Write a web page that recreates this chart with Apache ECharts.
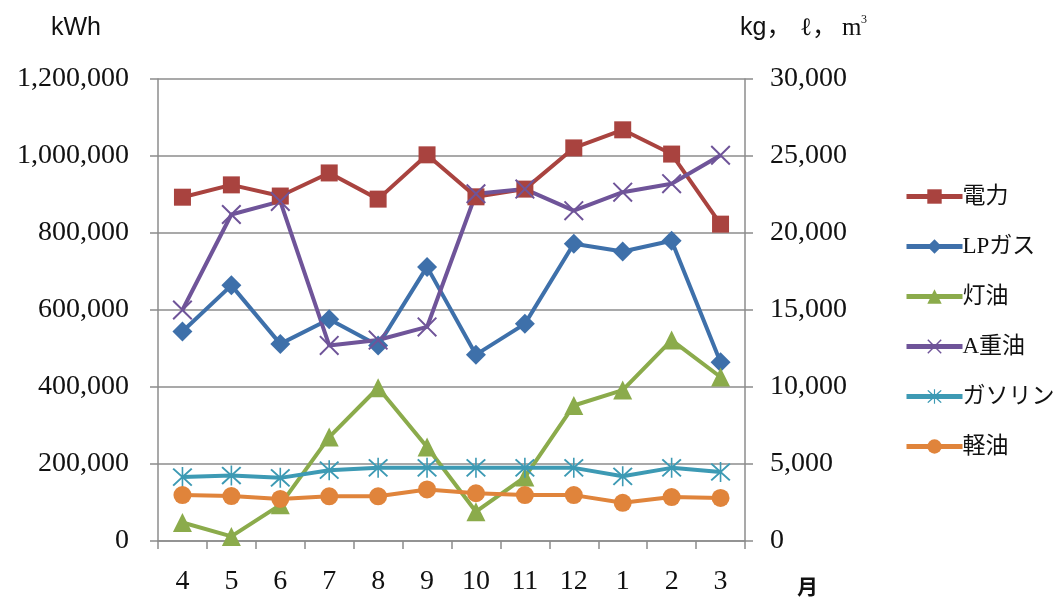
<!DOCTYPE html>
<html>
<head>
<meta charset="utf-8">
<script src="https://cdn.jsdelivr.net/npm/echarts@6/dist/echarts.min.js"></script>
<style>
  html, body { margin: 0; padding: 0; background: #fff; }
  #chart { width: 1055px; height: 599px; }
</style>
</head>
<body>
<div id="chart"></div>
<script>
// Months of the fiscal year (April to March)
const months = ['4', '5', '6', '7', '8', '9', '10', '11', '12', '1', '2', '3'];

// Electricity, kWh (left axis)
const electricity = [893000, 925000, 896000, 956000, 888000, 1003000, 894000, 914000, 1021000, 1068000, 1005000, 823000];

// Fuels, kg / ℓ / m³ (right axis)
const lpGas     = [13600, 16600, 12800, 14400, 12700, 17800, 12100, 14100, 19300, 18800, 19500, 11600];
const kerosene  = [1200, 300, 2350, 6750, 9950, 6100, 1900, 4150, 8800, 9800, 13050, 10650];
const heavyOilA = [15000, 21200, 22050, 12700, 13050, 13900, 22550, 22850, 21450, 22650, 23200, 25050];
const gasoline  = [4150, 4250, 4100, 4600, 4750, 4750, 4750, 4750, 4750, 4200, 4750, 4480];
const diesel    = [2980, 2920, 2730, 2900, 2900, 3350, 3100, 2980, 2980, 2480, 2850, 2800];

const seriesNames = ['電力', 'LPガス', '灯油', 'A重油', 'ガソリン', '軽油'];
const leftTicks = { min: 0, max: 1200000, interval: 200000 };
const rightTicks = { min: 0, max: 30000, interval: 5000 };

const serifFont = '"Liberation Serif", "DejaVu Serif", "Noto Sans CJK JP", serif';
const cjkFont = '"Liberation Serif", "Noto Sans CJK JP", serif';
const axisGray = '#8c8c8c';

const crossPath = 'path://M0,1.4 L1.4,0 L10,8.6 L18.6,0 L20,1.4 L11.4,10 L20,18.6 L18.6,20 L10,11.4 L1.4,20 L0,18.6 L8.6,10 Z';
const starPath = 'path://M0,1.4 L1.4,0 L10,8.6 L18.6,0 L20,1.4 L11.4,10 L20,18.6 L18.6,20 L10,11.4 L1.4,20 L0,18.6 L8.6,10 Z M9.2,-1 L10.8,-1 L10.8,21 L9.2,21 Z';

function fmt(v) { return v.toLocaleString('en-US'); }

function lineSeries(name, data, color, symbol, size, axis) {
  return {
    name: name,
    type: 'line',
    yAxisIndex: axis,
    data: data,
    symbol: symbol,
    symbolSize: size,
    showAllSymbol: true,
    lineStyle: { color: color, width: 4 },
    itemStyle: { color: color },
    emphasis: { disabled: true },
    animation: false
  };
}

const chart = echarts.init(document.getElementById('chart'), null, { renderer: 'canvas' });

const unitFont = '25px "Liberation Sans", Arial, sans-serif';
const unitSerif = '25px "Liberation Serif", serif';

chart.setOption({
  backgroundColor: '#ffffff',
  animation: false,
  grid: { left: 158, right: 310, top: 79, bottom: 58, containLabel: false },
  legend: {
    orient: 'vertical',
    left: 899,
    top: 180,
    itemWidth: 56,
    itemHeight: 18,
    itemGap: 27,
    lineStyle: { width: 5 },
    textStyle: { fontFamily: cjkFont, fontSize: 23, color: '#111', padding: [0, 0, 0, -5] },
    data: seriesNames
  },
  graphic: [
    // axis unit captions
    { type: 'text', left: 51, top: 16, style: { text: 'kWh', font: unitFont, fill: '#111' } },
    { type: 'text', left: 740, top: 16, style: { text: 'kg，', font: '25px "Liberation Sans", "Noto Sans CJK JP", sans-serif', fill: '#111' } },
    { type: 'text', left: 800, top: 16, style: { text: 'ℓ，', font: '25px "Liberation Serif", "Noto Sans CJK JP", serif', fill: '#111' } },
    { type: 'text', left: 842, top: 16, style: { text: 'm', font: unitSerif, fill: '#111' } },
    { type: 'text', left: 861, top: 14, style: { text: '3', font: '12px "Liberation Serif", serif', fill: '#111' } },
    { type: 'text', left: 797, top: 576, style: { text: '月', font: 'bold 21px "Noto Sans CJK JP", sans-serif', fill: '#111' } }
  ],
  xAxis: {
    type: 'category',
    data: months,
    boundaryGap: true,
    axisLine: { lineStyle: { color: axisGray, width: 1.5 } },
    axisTick: { show: true, length: 8, inside: false, lineStyle: { color: axisGray, width: 1.5 } },
    axisLabel: { margin: 27, fontFamily: serifFont, fontSize: 28, color: '#111' }
  },
  yAxis: [
    {
      type: 'value',
      min: leftTicks.min, max: leftTicks.max, interval: leftTicks.interval,
      position: 'left',
      axisLine: { show: true, lineStyle: { color: axisGray, width: 1.5 } },
      axisTick: { show: true, length: 8, lineStyle: { color: axisGray, width: 1.5 } },
      splitLine: { show: true, lineStyle: { color: axisGray, width: 1.5 } },
      axisLabel: { margin: 29, fontFamily: serifFont, fontSize: 28, color: '#111', formatter: fmt }
    },
    {
      type: 'value',
      min: rightTicks.min, max: rightTicks.max, interval: rightTicks.interval,
      position: 'right',
      axisLine: { show: true, lineStyle: { color: axisGray, width: 1.5 } },
      axisTick: { show: true, length: 8, lineStyle: { color: axisGray, width: 1.5 } },
      splitLine: { show: false },
      axisLabel: { margin: 25, fontFamily: serifFont, fontSize: 28, color: '#111', formatter: fmt }
    }
  ],
  series: [
    lineSeries('電力', electricity, '#a9433f', 'rect', 17, 0),
    lineSeries('LPガス', lpGas, '#3e70aa', 'diamond', 20, 1),
    lineSeries('灯油', kerosene, '#8bab4b', 'triangle', 19, 1),
    lineSeries('A重油', heavyOilA, '#6f5499', crossPath, 20, 1),
    lineSeries('ガソリン', gasoline, '#3d9ab4', starPath, 20, 1),
    lineSeries('軽油', diesel, '#e0843b', 'circle', 18, 1)
  ]
});
</script>
</body>
</html>
